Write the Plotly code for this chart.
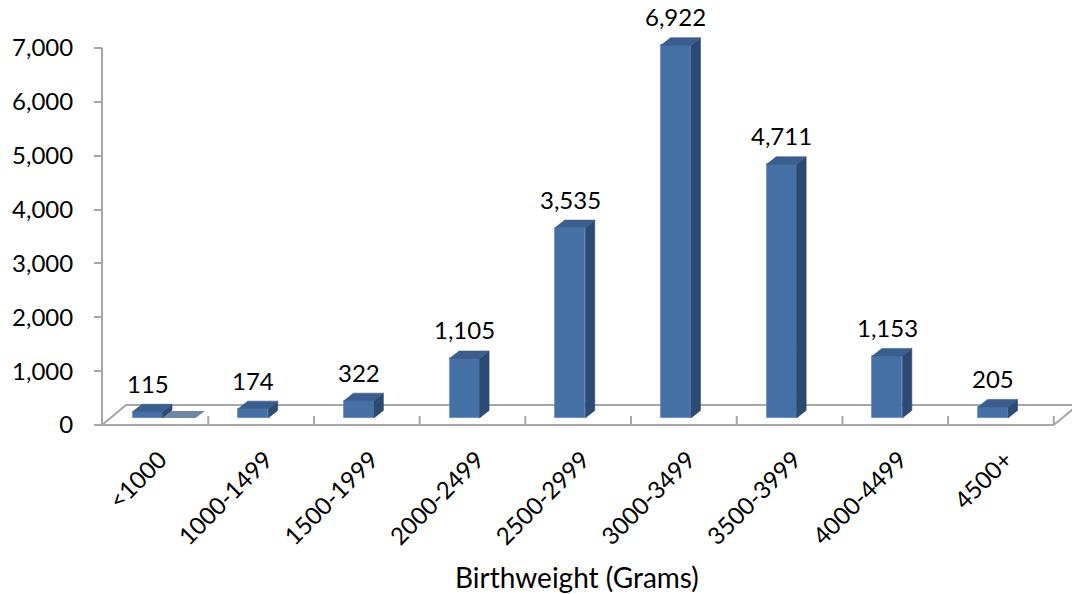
import plotly.graph_objects as go

# ---- data ----
categories = ["<1000", "1000-1499", "1500-1999", "2000-2499", "2500-2999",
              "3000-3499", "3500-3999", "4000-4499", "4500+"]
counts = [115, 174, 322, 1105, 3535, 6922, 4711, 1153, 205]
y_ticks = [0, 1000, 2000, 3000, 4000, 5000, 6000, 7000]
x_title = "Birthweight (Grams)"

# ---- style / geometry constants ----
FONT = "Lato, 'Open Sans', sans-serif"
FRONT = "#4571A6"
SIDE = "#2D4B72"
TOP = "#3A5E8E"
GRID = "#A6A6A6"

W = 1072
H = 594
ML, MR, MT, MB = 100, 0, 30, 154
plot_w = W - ML - MR
plot_h = H - MT - MB
x_range = [-0.4494, 8.7473]
px_per_x = plot_w / (x_range[1] - x_range[0])
y_range = [-278.5, 7334.2]
px_per_y = plot_h / (y_range[1] - y_range[0])
base_shift = 7 / px_per_y            # bars stand a little behind the floor's front edge
y2_range = [y_range[0] - base_shift, y_range[1] - base_shift]

bar_w = 30 / px_per_x
dx = 9.5 / px_per_x
dy = 7.5 / px_per_y

axis_x = x_range[0] + 2 / px_per_x
floor_right = len(categories) - 1 + 0.575
floor_dx = 24 / px_per_x
floor_dy = 20 / px_per_y
tick_h = 9 / px_per_y

idx = list(range(len(categories)))

fig = go.Figure()

# floor outline
fx, fy = [], []
fx += [axis_x, floor_right, None]; fy += [0, 0, None]
fx += [axis_x, axis_x + floor_dx, floor_right + floor_dx + 1, None]; fy += [0, floor_dy, floor_dy, None]
fx += [floor_right, floor_right + floor_dx, None]; fy += [0, floor_dy, None]
for i in idx:
    fx += [i + 0.575, i + 0.575, None]; fy += [0, tick_h, None]
# y-axis line
fx += [axis_x, axis_x, None]; fy += [0, y_ticks[-1], None]
fig.add_trace(go.Scatter(x=fx, y=fy, mode="lines", line=dict(color=GRID, width=2),
                         hoverinfo="skip", showlegend=False))

# faint shadow beside the first bar
sx0 = idx[0] + bar_w / 2
shadow_len = 33 / px_per_x
fig.add_trace(go.Scatter(
    x=[sx0, sx0 + shadow_len, sx0 + shadow_len + dx, sx0 + dx, sx0],
    y=[0, 0, dy * 0.95, dy * 0.95, 0], yaxis="y2",
    mode="lines", fill="toself", fillcolor="#7286A8", line=dict(width=0),
    hoverinfo="skip", showlegend=False))

# front faces
fig.add_trace(go.Bar(x=idx, y=counts, width=bar_w, yaxis="y2",
                     marker=dict(color=FRONT, line=dict(color="#5A85BA", width=0.8)),
                     showlegend=False, hoverinfo="skip"))

# side faces
sx, sy = [], []
for i, v in zip(idx, counts):
    r = i + bar_w / 2
    sx += [r, r + dx, r + dx, r, r, None]
    sy += [0, dy, v + dy, v, 0, None]
fig.add_trace(go.Scatter(x=sx, y=sy, yaxis="y2", mode="lines", fill="toself",
                         fillcolor=SIDE, line=dict(width=0.6, color=SIDE),
                         hoverinfo="skip", showlegend=False))

# top faces
tx, ty = [], []
for i, v in zip(idx, counts):
    l = i - bar_w / 2
    r = i + bar_w / 2
    tx += [l, r, r + dx, l + dx, l, None]
    ty += [v, v, v + dy, v + dy, v, None]
fig.add_trace(go.Scatter(x=tx, y=ty, yaxis="y2", mode="lines", fill="toself",
                         fillcolor=TOP, line=dict(width=0.6, color=TOP),
                         hoverinfo="skip", showlegend=False))

# data labels
for i, v in zip(idx, counts):
    fig.add_annotation(x=i, y=v, xref="x", yref="y2", text=f"{v:,}", showarrow=False,
                       yanchor="bottom", xanchor="center", yshift=12,
                       font=dict(family=FONT, size=24, color="#000000"))

# x title
fig.add_annotation(x=(577 - ML) / plot_w, y=(MT + plot_h - 577) / plot_h,
                   xref="paper", yref="paper", text=x_title, showarrow=False,
                   xanchor="center", yanchor="middle",
                   font=dict(family=FONT, size=28, color="#000000"))

fig.update_layout(
    width=W, height=H, autosize=False,
    margin=dict(l=ML, r=MR, t=MT, b=MB),
    paper_bgcolor="white", plot_bgcolor="white",
    bargap=0,
    font=dict(family=FONT, size=24, color="#000000"),
    xaxis=dict(range=x_range, showgrid=False, zeroline=False, showline=False,
               tickmode="array", tickvals=[i + 0.118 for i in idx], ticktext=categories,
               tickangle=-45, ticks="", tickfont=dict(family=FONT, size=24, color="#000000")),
    yaxis=dict(range=y_range, showgrid=False, zeroline=False, showline=False,
               tickmode="array", tickvals=y_ticks, ticktext=[f"{t:,}" for t in y_ticks],
               ticks="outside", ticklen=8, tickwidth=2, tickcolor=GRID,
               anchor="free", position=2 / plot_w, ticklabelstandoff=16,
               tickfont=dict(family=FONT, size=24, color="#000000")),
    yaxis2=dict(range=y2_range, overlaying="y", visible=False, showgrid=False,
                zeroline=False),
)

fig.write_html("out.html", config={"displayModeBar": False},
               post_script="document.body.style.margin='0px';document.body.style.overflow='hidden';")
